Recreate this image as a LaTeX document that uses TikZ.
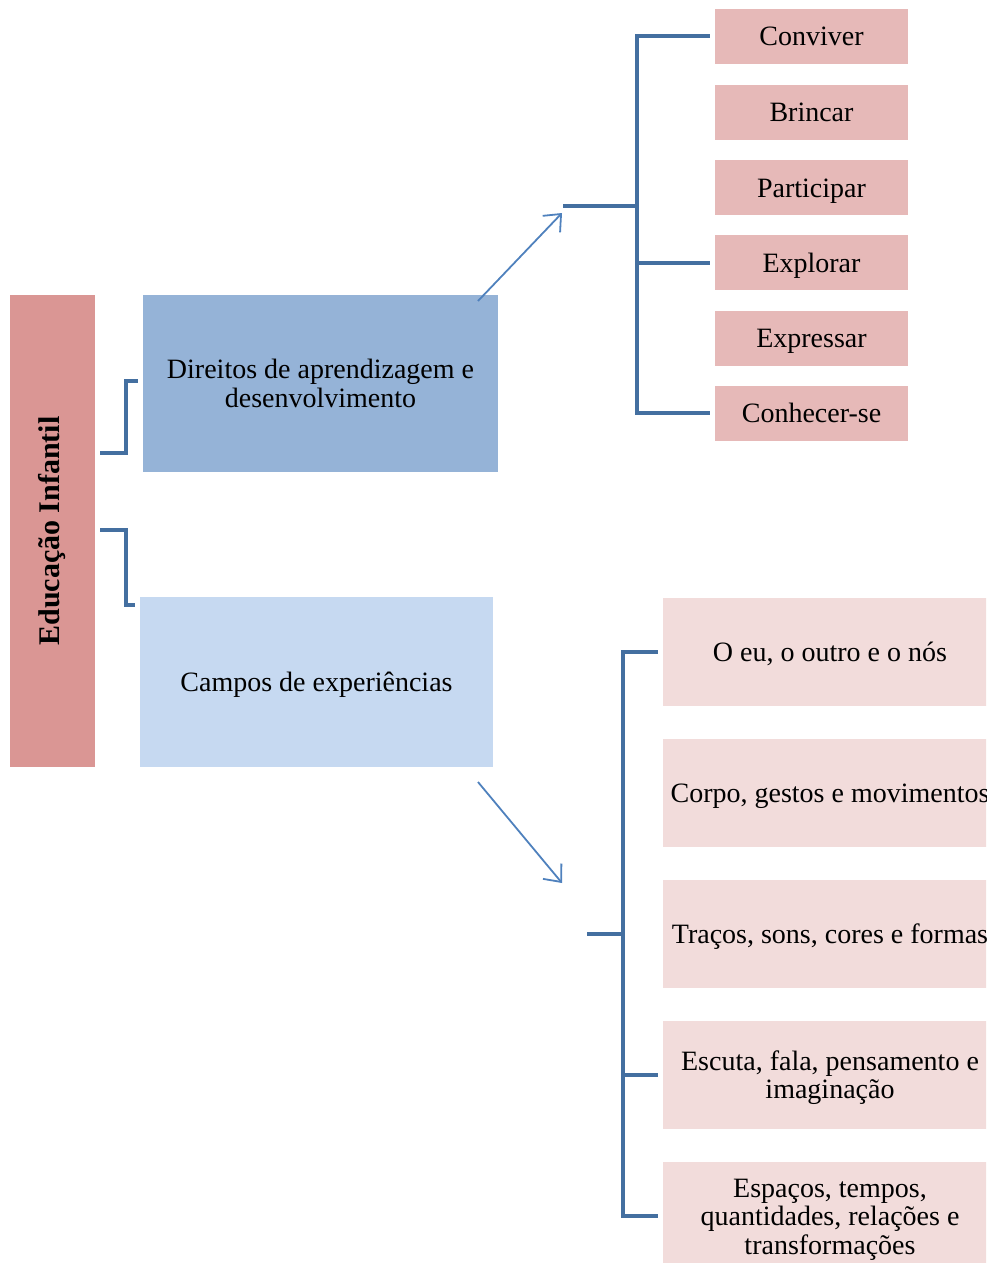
\documentclass[tikz,border=0pt]{standalone}
\usepackage{fontspec}
\setmainfont{Liberation Serif}
\usetikzlibrary{positioning}
\usetikzlibrary{arrows.meta}
\definecolor{eduRed}{RGB}{218,150,148}
\definecolor{dirBlue}{RGB}{149,179,215}
\definecolor{campBlue}{RGB}{198,217,241}
\definecolor{verbPink}{RGB}{230,185,184}
\definecolor{fieldPink}{RGB}{242,220,219}
\definecolor{treeBlue}{RGB}{68,111,160}
\definecolor{arrowBlue}{RGB}{79,129,189}
\newcommand{\boxstrut}{\rule[-6pt]{0pt}{31pt}}
\newcommand{\topstrut}{\rule{0pt}{25pt}}
\tikzstyle{thickLine}=[line width=4pt]
\tikzstyle{thinLine}=[line width=1.8pt]
\tikzstyle{Box}=[inner sep=0pt,align=center,font=\fontsize{28}{28.5}\selectfont,
  execute at begin node=\boxstrut,execute at end node=\boxstrut]
\tikzstyle{EduBox}=[inner sep=0pt,fill=eduRed,minimum width=85pt,minimum height=472pt,font=\fontsize{30}{30}\selectfont\bfseries]
\tikzstyle{DirBox}=[Box,fill=dirBlue,minimum width=355pt,minimum height=177pt]
\tikzstyle{CampBox}=[Box,fill=campBlue,minimum width=353pt,minimum height=170pt]
\tikzstyle{Verb}=[Box,fill=verbPink,minimum width=193pt,minimum height=55pt]
\tikzstyle{Field}=[Box,fill=fieldPink,minimum width=334pt,minimum height=108pt]
\tikzstyle{Tree}=[thickLine,draw=treeBlue]
\tikzstyle{Bracket}=[Tree,shorten <=5pt,shorten >=5pt]
\tikzstyle{Arrow}=[thinLine,draw=arrowBlue,-{Straight Barb[length=14pt,width=24pt]}]

\begin{document}
\begin{tikzpicture}[x=1pt,y=-1pt]

  \useasboundingbox (0,0) rectangle (986,1263);
  \clip (0,0) rectangle (986,1263);

  % Main boxes
  \node[EduBox] (Edu) at (52.5,531) {\rotatebox{90}{Educação Infantil}};
  \node[DirBox] (Dir) at (320.5,383.5) {\topstrut Direitos de aprendizagem e\\desenvolvimento};
  \node[CampBox] (Camp) at (316.5,682) {Campos de experiências};

  % Brackets
  \coordinate (JA) at (126,453);
  \coordinate (JB) at (126,381);
  \coordinate (JC) at (126,530);
  \coordinate (JD) at (126,605);
  \draw[Bracket] (Edu.east |- JA) -- (JA) -- (JB) -- (Dir.west |- JB);
  \draw[Bracket] (Edu.east |- JC) -- (JC) -- (JD) -- (Camp.west |- JD);

  % Direitos
  \node[Verb] (Conviver) at (811.5,36.5) {Conviver};
  \node[Verb] (Brincar) at (811.5,112) {Brincar};
  \node[Verb] (Participar) at (811.5,187.5) {Participar};
  \node[Verb] (Explorar) at (811.5,262.5) {Explorar};
  \node[Verb] (Expressar) at (811.5,338) {Expressar};
  \node[Verb] (Conhecer) at (811.5,413) {Conhecer-se};

  \coordinate (HubA) at (563,206);
  \coordinate (SpineA) at (637,206);
  \draw[Tree] (HubA) -- (SpineA);
  \draw[Bracket] (Conviver.west) -| (SpineA) |- (Conhecer.west);
  \draw[Tree,shorten >=5pt] (SpineA |- Explorar.west) -- (Explorar.west);

  % Arrow
  \coordinate (ArrA) at (478,301);
  \coordinate (ArrB) at (562,213);
  \draw[Arrow] (ArrA) -- (ArrB);

  % Campos
  \node[Field] (Eu) at (830,651.5) {O eu, o outro e o nós};
  \node[Field] (Corpo) at (830,793) {Corpo, gestos e movimentos};
  \node[Field] (Tracos) at (830,934) {Traços, sons, cores e formas};
  \node[Field] (Escuta) at (830,1075) {\topstrut Escuta, fala, pensamento e\\imaginação};
  \node[Field] (Espacos) at (830,1216) {\topstrut Espaços, tempos,\\quantidades, relações e\\transformações};

  \coordinate (HubB) at (587,934);
  \coordinate (SpineB) at (623,934);
  \draw[Tree] (HubB) -- (SpineB);
  \draw[Bracket] (Eu.west) -| (SpineB) |- (Espacos.west);
  \draw[Tree,shorten >=5pt] (SpineB |- Escuta.west) -- (Escuta.west);

  % Arrow
  \coordinate (ArrC) at (478,782);
  \coordinate (ArrD) at (562,883);
  \draw[Arrow] (ArrC) -- (ArrD);

\end{tikzpicture}
\end{document}
